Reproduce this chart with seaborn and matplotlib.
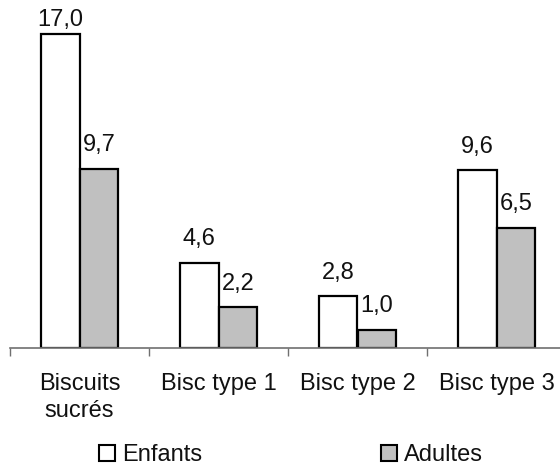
import numpy as np
import pandas as pd
import matplotlib.pyplot as plt
import seaborn as sns

sns.set_theme(style='white')
plt.rcParams['font.family'] = ['Liberation Sans', 'DejaVu Sans']

# --- data ---
categories = ['Biscuits\nsucrés', 'Bisc type 1', 'Bisc type 2', 'Bisc type 3']
enfants = [17.0, 4.6, 2.8, 9.6]
adultes = [9.7, 2.2, 1.0, 6.5]
series = ['Enfants', 'Adultes']

df = pd.DataFrame({
    'cat': categories * 2,
    'value': enfants + adultes,
    'serie': ['Enfants'] * 4 + ['Adultes'] * 4,
})

fs = 17
fig = plt.figure(figsize=(5.6, 4.68), dpi=100)
ax = fig.add_axes([10 / 560, 120 / 468, 556 / 560, 333 / 468])

sns.barplot(data=df, x='cat', y='value', hue='serie', hue_order=series,
            palette={'Enfants': 'white', 'Adultes': '#c0c0c0'},
            width=0.56, gap=0, edgecolor='black', linewidth=1.6,
            errorbar=None, ax=ax, legend=False)

ymax = 18
for cont in ax.containers:
    texts = ax.bar_label(cont, labels=[f'{v:.1f}'.replace('.', ',') for v in cont.datavalues],
                         padding=9, fontsize=fs, color='#111111')
    # the tallest label is pushed down to stay inside the plot area
    for t, v in zip(texts, cont.datavalues):
        if v > ymax - 1.5:
            t.xyann = (0, 2)

ax.set_xlim(-0.5, 3.5)
ax.set_ylim(0, ymax)
ax.set_xlabel('')
ax.set_ylabel('')
ax.set_yticks([])
for s in ['left', 'top', 'right']:
    ax.spines[s].set_visible(False)
ax.spines['bottom'].set_color('#707070')
ax.spines['bottom'].set_linewidth(1.2)

ax.set_xticks(np.arange(-0.5, 4, 1), minor=True)
ax.tick_params(axis='x', which='minor', length=6, width=1.0, color='#707070',
               direction='out', bottom=True)
ax.tick_params(axis='x', which='major', length=0, pad=18, labelsize=fs,
               labelcolor='#111111')
for lab in ax.get_xticklabels():
    lab.set_linespacing(1.3)

handles = [plt.Rectangle((0, 0), 1, 1, facecolor='white', edgecolor='black', linewidth=1.5),
           plt.Rectangle((0, 0), 1, 1, facecolor='#c0c0c0', edgecolor='black', linewidth=1.5)]
fig.legend(handles, series, loc='center', bbox_to_anchor=(291 / 560, 1 - 455 / 468),
           ncol=2, frameon=False, fontsize=fs, handlelength=0.65, handleheight=0.65,
           handletextpad=0.3, columnspacing=7.6, labelcolor='#111111')

fig.savefig('out.png', dpi=100)
